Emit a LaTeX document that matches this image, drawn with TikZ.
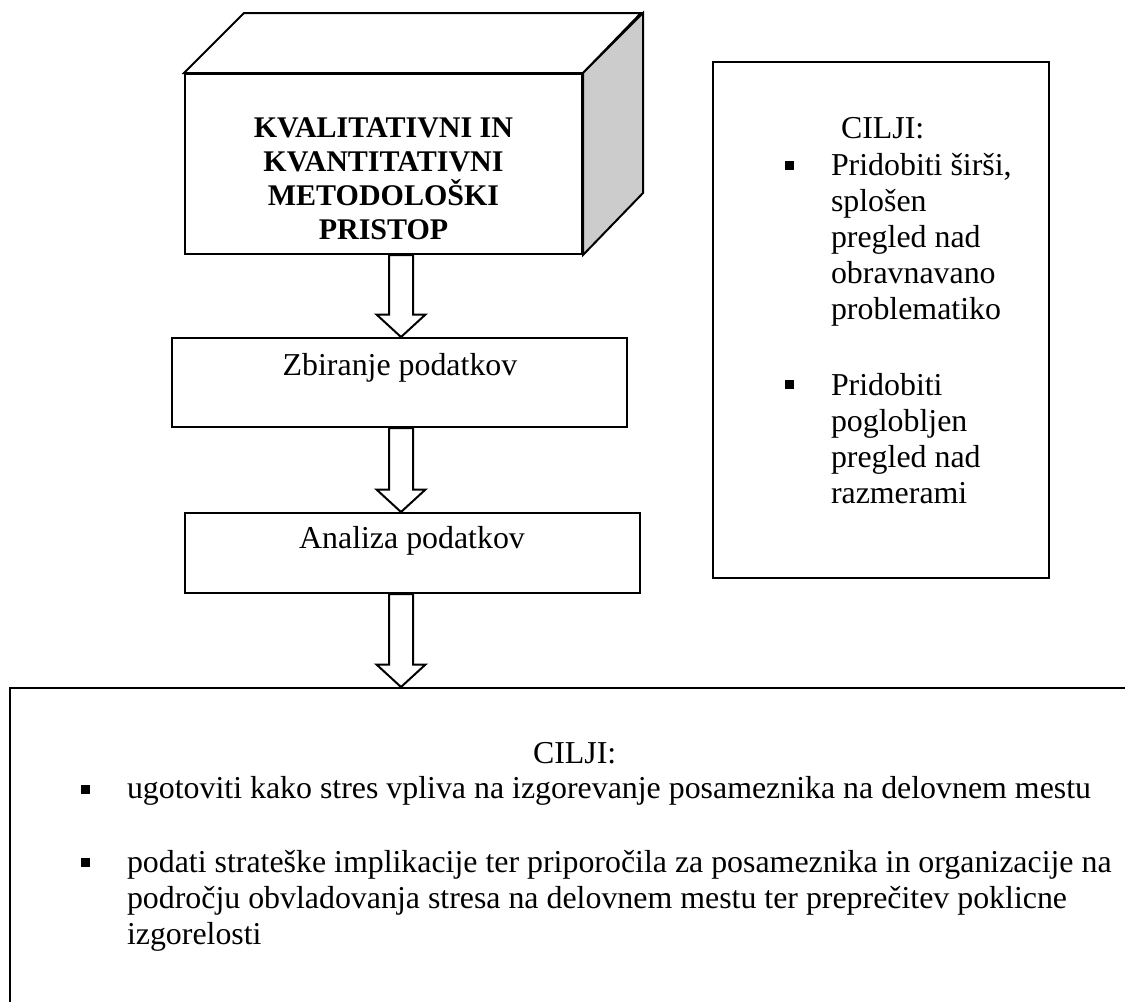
\documentclass[tikz,border=0pt]{standalone}
\usepackage{fontspec}
\setmainfont{Liberation Serif}
\usepackage{tikz}
\usetikzlibrary{calc}

\newcommand{\vrstice}[1]{\begin{tabular}[t]{@{}l@{}}#1\end{tabular}}
% bela blok puscica navzdol, po osi (os)
\newcommand{\blokpuscica}[2]{%
  \draw[puscica] let \p1=(#1.south), \p2=(#2.north), \p3=(os) in
    (\x3-4.8pt,\y1) -- (\x3-4.8pt,\y2+9pt) -- (\x3-9.8pt,\y2+9pt) -- (\x3,\y2)
    -- (\x3+9.8pt,\y2+9pt) -- (\x3+4.8pt,\y2+9pt) -- (\x3+4.8pt,\y1) -- cycle;}

\begin{document}
\begin{tikzpicture}[x=0.4pt,y=-0.4pt,line width=0.8pt,
  font=\fontsize{12.75}{14.4}\selectfont,
  okvir/.style={draw,rectangle,inner sep=0pt},
  besedilo/.style={inner sep=0pt,anchor=base west},
  kvadratek/.style={fill=black,minimum size=3.6pt,inner sep=0pt},
  puscica/.style={draw,fill=white,line join=miter}]
\useasboundingbox (0,0) rectangle (1125,1001);
\clip (0,0) rectangle (1125,1001);
\coordinate (os) at (401,0);

% kvader
\node[okvir,minimum width=158.8pt,minimum height=72pt] (pristop) at (383.5,164) {};
\draw[fill=white] (pristop.north west) -- ++(60,-60) -- ++(397,0) -- (pristop.north east) -- cycle;
\draw[fill=black!20] (pristop.north east) -- ++(60,-60) -- ++(0,180) -- (pristop.south east) -- cycle;
\node[inner sep=0pt,align=center,font=\fontsize{12}{13.6}\selectfont\bfseries] (pristopnapis) at (383.5,179)
  {KVALITATIVNI IN\\ KVANTITATIVNI\\ METODOLOŠKI\\ PRISTOP};

% koraka
\node[okvir,minimum width=182pt,minimum height=35.6pt] (zbiranje) at (399.5,382.5) {};
\node[besedilo,anchor=base] (zbiranjenapis) at (400,375) {Zbiranje podatkov};
\node[okvir,minimum width=182pt,minimum height=32pt] (analiza) at (412.5,553) {};
\node[besedilo,anchor=base] (analizanapis) at (412,548) {Analiza podatkov};

% cilji desno
\node[okvir,minimum width=134.4pt,minimum height=206.4pt] (desno) at (881,320) {};
\node[besedilo] (desnonaslov) at (840,138) {CILJI:};
\node[kvadratek] (desnok1) at (789,165) {};
\node[besedilo] (desnot1) at (830,175)
  {\vrstice{Pridobiti širši,\\ splošen\\ pregled nad\\ obravnavano\\ problematiko}};
\node[kvadratek] (desnok2) at (789,384) {};
\node[besedilo] (desnot2) at (830,395)
  {\vrstice{Pridobiti\\ poglobljen\\ pregled nad\\ razmerami}};

% cilji spodaj
\node[okvir,anchor=north west,minimum width=452.4pt,minimum height=133.2pt] (spodaj) at (9,687) {};
\node[besedilo] (spodajnaslov) at (532,763) {CILJI:};
\node[kvadratek] (spodajk1) at (85,789) {};
\node[besedilo] (spodajt1) at (126,798)
  {ugotoviti kako stres vpliva na izgorevanje posameznika na delovnem mestu};
\node[kvadratek] (spodajk2) at (85,862) {};
\node[besedilo] (spodajt2) at (126,872)
  {\vrstice{podati strateške implikacije ter priporočila za posameznika in organizacije na\\
   področju obvladovanja stresa na delovnem mestu ter preprečitev poklicne\\
   izgorelosti}};

% puscice
\blokpuscica{pristop}{zbiranje}
\blokpuscica{zbiranje}{analiza}
\blokpuscica{analiza}{spodaj}
\end{tikzpicture}
\end{document}
